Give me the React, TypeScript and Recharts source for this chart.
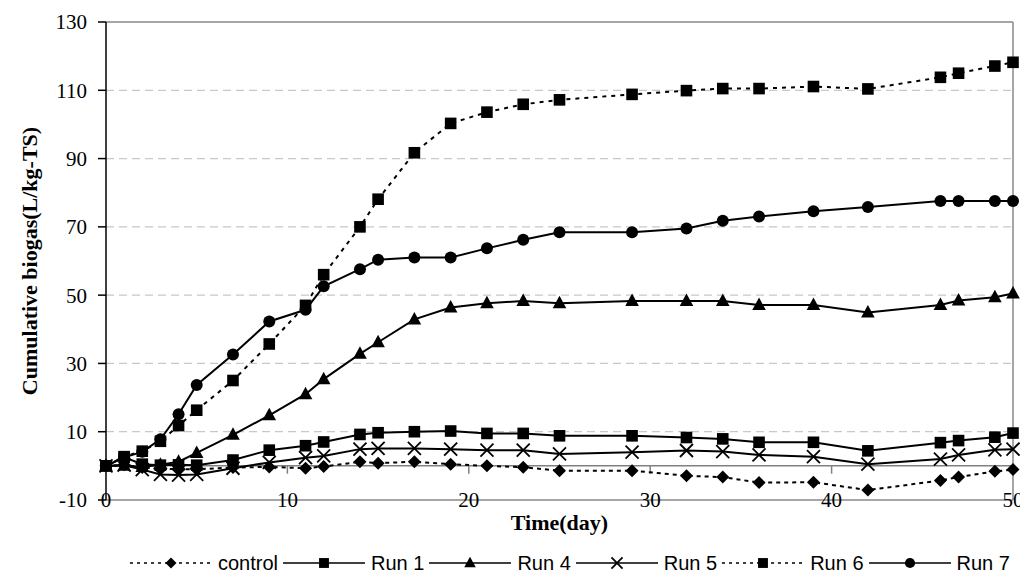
import React from 'react';
import { LineChart, Line, XAxis, YAxis, ReferenceLine } from 'recharts';

const days = [0, 1, 2, 3, 4, 5, 7, 9, 11, 12, 14, 15, 17, 19, 21, 23, 25, 29, 32, 34, 36, 39, 42, 46, 47, 49, 50];
const controlValues = [0, 0.3, -0.5, -0.8, -1.0, -1.0, -0.5, -0.3, -0.7, -0.2, 1.2, 0.8, 1.2, 0.5, 0, -0.4, -1.4, -1.4, -2.9, -3.3, -4.9, -4.8, -7.1, -4.3, -3.3, -1.6, -1.1];
const run1Values = [0, 2.5, 0.5, 0.2, 0.3, 0.2, 1.7, 4.6, 5.9, 7.0, 9.2, 9.7, 10.0, 10.2, 9.5, 9.5, 8.8, 8.8, 8.3, 7.9, 6.9, 6.9, 4.4, 6.8, 7.4, 8.4, 9.6];
const run4Values = [0, 0, -0.3, 0.3, 1.2, 3.8, 9.1, 14.8, 21.0, 25.4, 32.8, 36.2, 42.9, 46.4, 47.6, 48.3, 47.6, 48.3, 48.3, 48.3, 47.1, 47.1, 44.9, 47.1, 48.4, 49.4, 50.5];
const run5Values = [0, 0.2, -1.1, -2.5, -2.7, -2.5, -0.7, 1.0, 2.4, 2.9, 4.9, 5.1, 5.1, 4.9, 4.6, 4.6, 3.5, 4.0, 4.5, 4.2, 3.2, 2.7, 0.5, 2.0, 3.2, 4.7, 4.9];
const run6Values = [0, 2.7, 4.3, 7.2, 11.8, 16.3, 25.0, 35.7, 47.0, 56.0, 70.0, 78.1, 91.7, 100.3, 103.6, 105.9, 107.2, 108.8, 109.9, 110.5, 110.5, 111.1, 110.4, 113.8, 115.0, 117.1, 118.2];
const run7Values = [0, 2.5, 4.1, 7.8, 15.1, 23.7, 32.6, 42.3, 45.7, 52.6, 57.6, 60.4, 61.0, 61.0, 63.7, 66.2, 68.4, 68.4, 69.5, 71.8, 73.0, 74.6, 75.8, 77.6, 77.6, 77.6, 77.6];

const xTicks = [0, 10, 20, 30, 40, 50];
const xMinorTicks = [10, 20, 30, 40];
const yTicks = [-10, 10, 30, 50, 70, 90, 110, 130];
const gridValues = [10, 30, 50, 70, 90, 110];

const data = days.map((d, i) => ({
  day: d,
  control: controlValues[i],
  run1: run1Values[i],
  run4: run4Values[i],
  run5: run5Values[i],
  run6: run6Values[i],
  run7: run7Values[i],
}));

type Shape = 'diamond' | 'square' | 'triangle' | 'cross' | 'circle';

const series: { key: string; name: string; shape: Shape; dash?: string }[] = [
  { key: 'control', name: 'control', shape: 'diamond', dash: '4 4' },
  { key: 'run1', name: 'Run 1', shape: 'square' },
  { key: 'run4', name: 'Run 4', shape: 'triangle' },
  { key: 'run5', name: 'Run 5', shape: 'cross' },
  { key: 'run6', name: 'Run 6', shape: 'square', dash: '4 5' },
  { key: 'run7', name: 'Run 7', shape: 'circle' },
];

const SERIF = '"Liberation Serif", "Times New Roman", serif';
const SANS = '"Liberation Sans", Arial, sans-serif';

function MarkerShape({ shape, cx, cy, s = 1 }: { shape: Shape; cx: number; cy: number; s?: number }) {
  if (cx == null || cy == null || isNaN(cx) || isNaN(cy)) return <g />;
  switch (shape) {
    case 'diamond': {
      const r = 6.5 * s;
      return <polygon points={`${cx},${cy - r} ${cx + r},${cy} ${cx},${cy + r} ${cx - r},${cy}`} fill="#000" />;
    }
    case 'square': {
      const h = 5.8 * s;
      return <rect x={cx - h} y={cy - h} width={2 * h} height={2 * h} fill="#000" />;
    }
    case 'triangle': {
      const w = 6.8 * s;
      return <polygon points={`${cx},${cy - 7.5 * s} ${cx + w},${cy + 5 * s} ${cx - w},${cy + 5 * s}`} fill="#000" />;
    }
    case 'cross': {
      const h = 6.5 * s;
      return (
        <g stroke="#000" strokeWidth={1.8}>
          <line x1={cx - h} y1={cy - h} x2={cx + h} y2={cy + h} />
          <line x1={cx - h} y1={cy + h} x2={cx + h} y2={cy - h} />
        </g>
      );
    }
    case 'circle':
    default:
      return <circle cx={cx} cy={cy} r={6 * s} fill="#000" />;
  }
}

const makeDot = (shape: Shape) => (props: any) => {
  const { cx, cy, index } = props;
  return (
    <g key={`${shape}-${index}`}>
      <MarkerShape shape={shape} cx={cx} cy={cy} />
    </g>
  );
};

const XTick = (props: any) => {
  const { x, y, payload } = props;
  return (
    <text x={x} y={y} dy="0.35em" textAnchor="middle" fontFamily={SERIF} fontSize={21} fill="#000">
      {payload.value}
    </text>
  );
};

const XTitle = (props: any) => {
  const vb = props.viewBox || { x: 98, y: 492, width: 907, height: 30 };
  return (
    <text
      x={vb.x + vb.width / 2}
      y={vb.y + 22}
      dy="0.35em"
      textAnchor="middle"
      fontFamily={SERIF}
      fontWeight="bold"
      fontSize={22}
      fill="#000"
    >
      Time(day)
    </text>
  );
};

const YTitle = (props: any) => {
  const vb = props.viewBox || { x: 0, y: 14, width: 98, height: 478 };
  const cx = 21;
  const cy = vb.y + vb.height / 2;
  return (
    <text
      x={cx}
      y={cy}
      transform={`rotate(-90 ${cx} ${cy})`}
      textAnchor="middle"
      dominantBaseline="central"
      fontFamily={SERIF}
      fontWeight="bold"
      fontSize={22}
      fill="#000"
    >
      Cumulative biogas(L/kg-TS)
    </text>
  );
};

export default function App() {
  return (
    <div style={{ position: 'relative', width: 1020, height: 572 }}>
      <LineChart width={1020} height={572} data={data} margin={{ top: 14, right: 15, bottom: 50, left: 0 }}>
        <XAxis
          type="number"
          dataKey="day"
          domain={[0, 50]}
          ticks={xTicks}
          interval={0}
          axisLine={false}
          tickLine={false}
          tickSize={0}
          tickMargin={0}
          height={30}
          tick={<XTick />}
          label={<XTitle />}
        />
        <YAxis
          type="number"
          domain={[-10, 130]}
          ticks={yTicks}
          interval={0}
          width={98}
          axisLine={{ stroke: '#000', strokeWidth: 1.5 }}
          tickLine={{ stroke: '#000', strokeWidth: 1.5 }}
          tickSize={8}
          tickMargin={11}
          tick={{ fontFamily: SERIF, fontSize: 21, fill: '#000' }}
          label={<YTitle />}
        />
        {gridValues.map((v) => (
          <ReferenceLine key={`g${v}`} y={v} stroke="#c8c8c8" strokeWidth={1.2} strokeDasharray="8 5" ifOverflow="visible" />
        ))}
        <ReferenceLine y={130} stroke="#888" strokeWidth={1.5} ifOverflow="visible" />
        <ReferenceLine y={-10} stroke="#888" strokeWidth={1.5} ifOverflow="visible" />
        <ReferenceLine x={50} stroke="#888" strokeWidth={1.5} ifOverflow="visible" />
        <ReferenceLine y={0} stroke="#808080" strokeWidth={1.5} ifOverflow="visible" />
        {xMinorTicks.map((t) => (
          <ReferenceLine
            key={`t${t}`}
            segment={[{ x: t, y: 0 }, { x: t, y: -2.3 }]}
            stroke="#808080"
            strokeWidth={1.5}
            ifOverflow="visible"
          />
        ))}
        {series.map((s) => (
          <Line
            key={s.key}
            type="linear"
            dataKey={s.key}
            name={s.name}
            stroke="#000"
            strokeWidth={2}
            strokeDasharray={s.dash}
            dot={makeDot(s.shape)}
            activeDot={false}
            isAnimationActive={false}
          />
        ))}
      </LineChart>
      <div
        style={{
          position: 'absolute',
          left: 122,
          top: 545,
          display: 'flex',
          alignItems: 'center',
          fontFamily: SANS,
          fontSize: 20,
          lineHeight: '20px',
          color: '#000',
          whiteSpace: 'nowrap',
        }}
      >
        {series.map((s) => (
          <div key={s.key} style={{ display: 'flex', alignItems: 'center', marginRight: 5 }}>
            <svg width={82} height={20} style={{ display: 'block' }}>
              <line x1={0} y1={10} x2={82} y2={10} stroke="#000" strokeWidth={1.5} strokeDasharray={s.dash ? '3 4' : undefined} />
              <MarkerShape shape={s.shape} cx={41} cy={10} s={0.85} />
            </svg>
            <span style={{ marginLeft: 6 }}>{s.name}</span>
          </div>
        ))}
      </div>
    </div>
  );
}
